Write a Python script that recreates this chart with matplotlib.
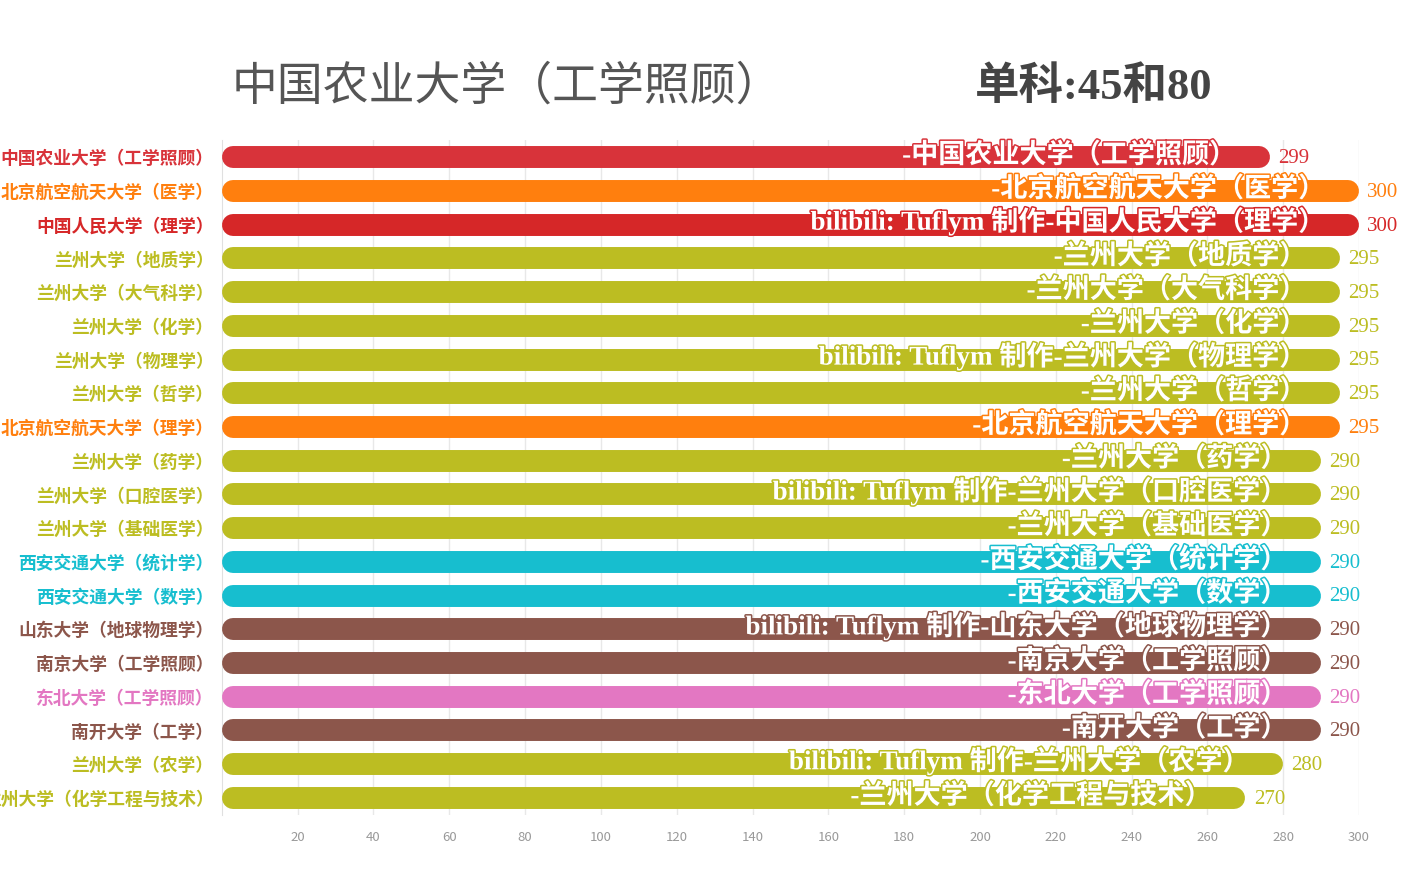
import matplotlib.pyplot as plt
import matplotlib.patheffects as pe

plt.rcParams['font.family'] = ['Noto Sans CJK SC', 'DejaVu Sans']

# =========================
# DATA
# =========================
names = ["中国农业大学（工学照顾）", "北京航空航天大学（医学）", "中国人民大学（理学）",
         "兰州大学（地质学）", "兰州大学（大气科学）", "兰州大学（化学）",
         "兰州大学（物理学）", "兰州大学（哲学）", "北京航空航天大学（理学）",
         "兰州大学（药学）", "兰州大学（口腔医学）", "兰州大学（基础医学）",
         "西安交通大学（统计学）", "西安交通大学（数学）", "山东大学（地球物理学）",
         "南京大学（工学照顾）", "东北大学（工学照顾）", "南开大学（工学）",
         "兰州大学（农学）", "兰州大学（化学工程与技术）"]
scores = [299, 300, 300, 295, 295, 295, 295, 295, 295, 290,
          290, 290, 290, 290, 290, 290, 290, 290, 280, 270]
# bar lengths in this frame of the animation (first bar still growing)
bar_now = [276.5, 300, 300, 295, 295, 295, 295, 295, 295, 290,
           290, 290, 290, 290, 290, 290, 290, 290, 280, 270]
school_colors = {
    "中国农业大学": "#d8333a",
    "北京航空航天大学": "#ff7f0e",
    "中国人民大学": "#d62728",
    "兰州大学": "#bcbd22",
    "西安交通大学": "#17becf",
    "山东大学": "#8c564b",
    "南京大学": "#8c564b",
    "东北大学": "#e377c2",
    "南开大学": "#8c564b",
}
title_left = "中国农业大学（工学照顾）"
title_right = "单科:45和80"
watermark = "bilibili: Tuflym "
x_ticks = [20, 40, 60, 80, 100, 120, 140, 160, 180, 200, 220, 240, 260, 280, 300]

# =========================
# FIGURE
# =========================
fig = plt.figure(figsize=(14.04, 8.77), dpi=100)
ax = fig.add_axes([0.158, 0.071, 0.81, 0.769])
ax.set_xlim(0, 300)
ax.set_ylim(len(names) - 0.5, -0.5)

ax_px = ax.get_position().width * fig.get_figwidth() * fig.dpi
r = 11 / (ax_px / 300)  # half bar height in data units

serif_cjk = ['Liberation Serif', 'Noto Sans CJK SC']

for i, (name, s, v) in enumerate(zip(names, scores, bar_now)):
    color = school_colors[name.split("（")[0]]
    stroke = [pe.withStroke(linewidth=2.2, foreground=color)]
    ax.plot([r, v - r], [i, i], color=color, lw=15.8,
            solid_capstyle='round', zorder=3)
    label = ("制作-" if i % 4 == 2 else "-") + name
    t = ax.annotate(label, xy=(v, i), xytext=(-24, 1), textcoords='offset points',
                    ha='right', va='center', fontsize=19.5, color='white',
                    family=serif_cjk, fontweight='bold',
                    path_effects=stroke, zorder=4)
    if i % 4 == 2:
        ax.annotate(watermark, xy=(0, 0.5), xycoords=t, ha='right', va='center',
                    fontsize=19.5, color='white', family=serif_cjk,
                    fontweight='bold', path_effects=stroke, zorder=4)
    ax.annotate(str(s), xy=(v, i), xytext=(6, -1), textcoords='offset points',
                ha='left', va='center', fontsize=15, color=color,
                family='Liberation Serif', annotation_clip=False, zorder=4)

ax.set_yticks(range(len(names)))
ax.set_yticklabels(names, fontsize=12.8, fontweight='bold')
for lbl, name in zip(ax.get_yticklabels(), names):
    lbl.set_color(school_colors[name.split("（")[0]])

ax.set_xticks(x_ticks)
ax.set_xticklabels([str(t) for t in x_ticks], fontsize=9.5, color='#999999')
ax.tick_params(axis='both', length=0)
ax.tick_params(axis='x', pad=12)
ax.tick_params(axis='y', pad=6)
ax.grid(axis='x', color='#e8e8e8', lw=1, zorder=0)
for side in ['top', 'right', 'bottom']:
    ax.spines[side].set_visible(False)
ax.spines['left'].set_color('#e0e0e0')

fig.text(0.361, 0.901, title_left, fontsize=33, color='#555555',
         ha='center', va='center')
fig.text(0.779, 0.901, title_right, fontsize=32, color='#444444',
         ha='center', va='center', fontweight='bold', family=serif_cjk)

plt.savefig("out.png", dpi=100)
